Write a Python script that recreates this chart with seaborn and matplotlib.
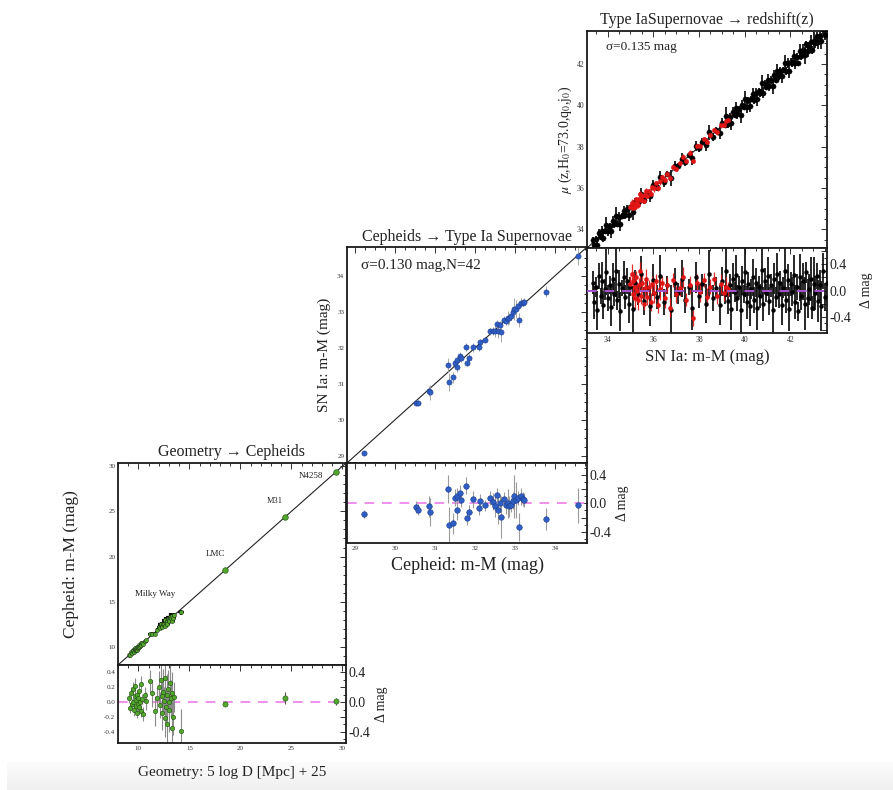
import numpy as np
import pandas as pd
import matplotlib
matplotlib.use("Agg")
import matplotlib.pyplot as plt
import seaborn as sns
from matplotlib.ticker import MultipleLocator, FixedLocator, FormatStrFormatter

# ---------------- data ----------------
# Panel 1: Geometry -> Cepheids (Milky Way Cepheids + anchors)
mw_x = [9.05, 9.2, 9.3, 9.38, 9.45, 9.5, 9.56, 9.62, 9.68, 9.72,
        9.78, 9.83, 9.88, 9.92, 9.97, 10.02, 10.08, 10.15, 10.22, 10.3,
        10.38, 10.48, 10.6, 10.75, 11.1, 11.3, 11.6, 11.85, 12.0, 12.1,
        12.2, 12.28, 12.35, 12.42, 12.5, 12.56, 12.62, 12.7, 12.76, 12.82,
        12.9, 12.96, 13.02, 13.1, 13.18, 13.25, 13.32, 13.4, 13.48, 14.2]
mw_res = [0.05, -0.08, 0.12, -0.02, 0.18, 0.0, -0.1, 0.08, 0.22, -0.05,
          0.03, -0.14, 0.1, -0.03, 0.06, 0.15, -0.07, 0.0, 0.25, -0.12,
          0.04, -0.16, 0.1, 0.02, 0.28, 0.12, -0.12, 0.05, 0.2, -0.04,
          0.3, 0.08, -0.15, 0.14, 0.02, -0.22, 0.33, -0.06, 0.1, -0.3,
          0.18, 0.0, -0.1, 0.26, 0.05, -0.35, 0.12, -0.2, 0.07, -0.39]
mw_err = [0.06, 0.07, 0.08, 0.06, 0.09, 0.07, 0.08, 0.06, 0.1, 0.07,
          0.06, 0.08, 0.07, 0.09, 0.06, 0.08, 0.07, 0.06, 0.1, 0.08,
          0.07, 0.09, 0.1, 0.12, 0.15, 0.18, 0.2, 0.16, 0.22, 0.18,
          0.25, 0.2, 0.22, 0.3, 0.18, 0.25, 0.35, 0.22, 0.28, 0.3,
          0.25, 0.2, 0.3, 0.35, 0.25, 0.3, 0.28, 0.24, 0.2, 0.3]
anchor_names = ["LMC", "M31", "N4258"]
anchor_x = [18.48, 24.37, 29.38]
anchor_res = [-0.02, 0.05, 0.01]
anchor_err = [0.03, 0.08, 0.05]

# Panel 2: Cepheids -> SN Ia (N=42)
sn_x = [29.22, 30.53, 30.57, 30.84, 30.88, 31.32, 31.35, 31.46, 31.5, 31.54,
        31.56, 31.62, 31.66, 31.77, 31.8, 31.85, 31.95, 32.09, 32.12, 32.26,
        32.38, 32.45, 32.5, 32.54, 32.57, 32.62, 32.64, 32.72, 32.77, 32.82,
        32.86, 32.9, 32.95, 32.98, 33.02, 33.08, 33.11, 33.15, 33.19, 33.23,
        33.78, 34.57]
sn_res = [-0.15, -0.05, -0.09, -0.04, -0.12, 0.2, -0.3, -0.28, 0.08, 0.11,
          -0.09, 0.14, 0.05, 0.25, -0.21, -0.12, 0.06, -0.07, 0.03, -0.03,
          0.08, 0.02, -0.04, 0.12, -0.09, 0.0, -0.19, 0.06, -0.03, 0.0,
          -0.04, -0.02, 0.04, 0.1, 0.05, 0.08, -0.33, 0.1, 0.06, 0.05,
          -0.22, -0.03]
sn_err = [0.05, 0.08, 0.08, 0.15, 0.2, 0.2, 0.25, 0.15, 0.12, 0.1,
          0.15, 0.12, 0.1, 0.12, 0.1, 0.1, 0.12, 0.1, 0.1, 0.08,
          0.1, 0.12, 0.15, 0.1, 0.2, 0.12, 0.3, 0.1, 0.12, 0.2,
          0.15, 0.1, 0.12, 0.3, 0.25, 0.1, 0.2, 0.12, 0.1, 0.1,
          0.15, 0.25]

# Panel 3: SN Ia -> redshift (Hubble flow, black) and red subset
hf_x = [33.35, 33.42, 33.5, 33.55, 33.62, 33.7, 33.75, 33.82, 33.9, 33.95,
        34.02, 34.1, 34.15, 34.22, 34.3, 34.36, 34.42, 34.5, 34.56, 34.63,
        34.7, 34.78, 34.85, 34.92, 35.0, 35.1, 35.2, 35.32, 35.45, 35.6,
        35.72, 35.85, 36.0, 36.15, 36.3, 36.45, 36.6, 36.78, 36.95, 37.1,
        37.25, 37.4, 37.55, 37.7, 37.85, 38.0, 38.15, 38.3, 38.45, 38.6,
        38.75, 38.9, 39.02, 39.12, 39.2, 39.28, 39.35, 39.42, 39.5, 39.56,
        39.62, 39.68, 39.75, 39.82, 39.88, 39.95, 40.02, 40.08, 40.15, 40.22,
        40.28, 40.35, 40.42, 40.48, 40.55, 40.62, 40.68, 40.75, 40.82, 40.88,
        40.95, 41.02, 41.08, 41.15, 41.22, 41.28, 41.35, 41.42, 41.48, 41.55,
        41.62, 41.68, 41.75, 41.82, 41.88, 41.95, 42.02, 42.08, 42.15, 42.22,
        42.28, 42.35, 42.42, 42.48, 42.55, 42.62, 42.68, 42.75, 42.82, 42.88,
        42.95, 43.02, 43.08, 43.15, 43.22, 43.28, 43.35, 43.42, 43.5, 43.58]
hf_res = [0.12, -0.18, 0.05, -0.3, 0.22, -0.08, 0.15, -0.22, 0.02, 0.28,
          -0.12, 0.08, -0.25, 0.18, -0.05, 0.3, -0.15, 0.1, -0.32, 0.04,
          0.2, -0.1, 0.14, -0.2, 0.06, -0.28, 0.12, -0.06, 0.25, -0.16,
          0.02, -0.24, 0.16, -0.1, 0.22, -0.18, 0.08, -0.3, 0.12, -0.04,
          0.18, -0.14, 0.05, -0.26, 0.2, -0.08, 0.1, -0.2, 0.26, -0.12,
          0.04, -0.22, 0.14, -0.06, 0.3, -0.16, 0.08, -0.28, 0.18, -0.02,
          0.24, -0.12, 0.06, -0.3, 0.15, -0.05, 0.28, -0.18, 0.1, -0.24,
          0.02, 0.2, -0.14, 0.12, -0.26, 0.06, -0.08, 0.32, -0.2, 0.14,
          -0.04, 0.22, -0.16, 0.08, -0.3, 0.18, -0.1, 0.26, -0.06, 0.12,
          -0.22, 0.04, 0.3, -0.14, 0.16, -0.28, 0.1, -0.02, 0.24, -0.18,
          0.06, -0.32, 0.2, -0.08, 0.14, -0.2, 0.28, -0.12, 0.02, 0.18,
          -0.26, 0.1, -0.04, 0.22, -0.16, 0.08, -0.24, 0.3, -0.1, 0.12]
hf_err = [0.18, 0.25, 0.15, 0.3, 0.2, 0.12, 0.28, 0.22, 0.16, 0.35,
          0.2, 0.14, 0.3, 0.24, 0.18, 0.4, 0.15, 0.22, 0.3, 0.12,
          0.25, 0.18, 0.2, 0.3, 0.14, 0.35, 0.2, 0.16, 0.28, 0.22,
          0.15, 0.3, 0.24, 0.18, 0.32, 0.2, 0.14, 0.38, 0.22, 0.16,
          0.28, 0.2, 0.12, 0.34, 0.24, 0.18, 0.15, 0.3, 0.36, 0.2,
          0.16, 0.3, 0.22, 0.14, 0.4, 0.2, 0.18, 0.32, 0.24, 0.15,
          0.3, 0.2, 0.16, 0.36, 0.22, 0.14, 0.38, 0.25, 0.18, 0.3,
          0.15, 0.28, 0.2, 0.22, 0.34, 0.16, 0.18, 0.4, 0.26, 0.2,
          0.14, 0.3, 0.22, 0.18, 0.36, 0.24, 0.15, 0.32, 0.2, 0.18,
          0.3, 0.16, 0.38, 0.2, 0.24, 0.34, 0.18, 0.22, 0.3, 0.26,
          0.2, 0.14, 0.36, 0.22, 0.28, 0.4, 0.16, 0.3, 0.24, 0.34,
          0.18, 0.42, 0.26, 0.2, 0.32, 0.24, 0.38, 0.28, 0.22, 0.3]
red_x = [35.0, 35.05, 35.1, 35.12, 35.18, 35.22, 35.25, 35.3, 35.35, 35.38,
         35.42, 35.48, 35.52, 35.58, 35.62, 35.68, 35.72, 35.8, 35.88, 35.95,
         36.02, 36.1, 36.2, 36.3, 36.4, 36.5, 36.62, 36.75, 36.88, 37.0,
         37.15, 37.3, 37.45, 37.6, 37.75, 37.9, 38.05, 38.2, 38.35, 38.5,
         38.65, 38.8, 38.95, 39.1, 39.2, 39.28]
red_res = [0.1, 0.25, -0.05, 0.15, 0.05, -0.12, 0.2, 0.0, -0.15, 0.08,
           0.3, -0.08, 0.12, -0.2, 0.04, 0.18, -0.1, 0.06, -0.18, 0.1,
           -0.04, 0.14, -0.22, 0.02, 0.12, -0.12, 0.08, -0.26, 0.16, -0.06,
           0.04, 0.2, -0.14, 0.08, -0.42, 0.12, -0.02, 0.16, -0.1, 0.06,
           0.18, -0.08, 0.1, -0.04, 0.06, 0.02]
red_err = [0.12, 0.15, 0.1, 0.14, 0.12, 0.16, 0.1, 0.13, 0.15, 0.11,
           0.14, 0.12, 0.16, 0.1, 0.13, 0.15, 0.12, 0.1, 0.14, 0.12,
           0.15, 0.11, 0.13, 0.16, 0.1, 0.14, 0.12, 0.15, 0.11, 0.13,
           0.12, 0.16, 0.1, 0.14, 0.12, 0.13, 0.15, 0.11, 0.14, 0.12,
           0.1, 0.13, 0.15, 0.12, 0.14, 0.11]

# ---------------- style ----------------
sns.set_theme(style="white")
plt.rcParams['font.family'] = ['Liberation Serif', 'DejaVu Serif']
plt.rcParams['mathtext.fontset'] = 'stix'
plt.rcParams['axes.unicode_minus'] = False

def frame(df_x, df_y):
    return pd.DataFrame({"x": df_x, "y": df_y})

fig = plt.figure(figsize=(8.93, 7.9), dpi=100)

# bottom grey shade
bg = fig.add_axes([0.008, 0.0, 0.992, 0.036], zorder=-5)
bg.imshow(np.linspace(0, 1, 50)[:, None], aspect='auto', cmap='Greys',
          vmin=-0.2, vmax=9.0, extent=[0, 1, 0, 1])
bg.axis('off')

def pos(l, t, r, b):
    return [l / 893, 1 - b / 790, (r - l) / 893, (b - t) / 790]

def style(ax, xmaj, xmin, ymaj, ymin, lsize=5.5):
    for s in ax.spines.values():
        s.set_linewidth(1.3)
        s.set_color('#1a1a1a')
    ax.xaxis.set_major_locator(MultipleLocator(xmaj))
    ax.xaxis.set_minor_locator(MultipleLocator(xmin))
    ax.yaxis.set_major_locator(MultipleLocator(ymaj))
    ax.yaxis.set_minor_locator(MultipleLocator(ymin))
    ax.tick_params(which='both', direction='in', top=True, right=True,
                   width=0.7, colors='#333333', labelsize=lsize, pad=2,
                   labelcolor='#333333')
    ax.tick_params(which='major', length=4)
    ax.tick_params(which='minor', length=2)
    ax.grid(False)

def right_scale(ax, pad):
    sec = ax.secondary_yaxis('right')
    sec.yaxis.set_major_locator(FixedLocator([-0.4, 0.0, 0.4]))
    sec.yaxis.set_major_formatter(FormatStrFormatter('%.1f'))
    sec.tick_params(length=0, labelsize=10, pad=2, colors='#222222')
    sec.spines['right'].set_visible(False)
    sec.set_ylabel('Δ mag', fontsize=10, labelpad=pad, color='#222222')
    return sec

def errbars(ax, x, y, err, color, lw=0.7, xerr=None, alpha=1.0):
    ax.errorbar(x, y, yerr=err, xerr=xerr, fmt='none', ecolor=color,
                elinewidth=lw, capsize=0, alpha=alpha, zorder=2)

GREEN = '#52a82c'
BLUE = '#2f5ec4'
RED = '#e01515'
DASH1 = '#ee8fee'
DASH3 = '#a653cf'

# ---------------- Panel 1 ----------------
ax1 = fig.add_axes(pos(118, 463, 346, 665))
r1 = fig.add_axes(pos(118, 665, 346, 743), sharex=ax1)
lim1 = (8.0, 30.35)
mw_y = [a + b for a, b in zip(mw_x, mw_res)]
an_y = [a + b for a, b in zip(anchor_x, anchor_res)]
ax1.axline((0, 0), slope=1, color='#222222', lw=0.8, zorder=1)
errbars(ax1, mw_x, mw_y, mw_err, '#111111', lw=1.6, xerr=mw_err)
sns.scatterplot(data=frame(mw_x, mw_y), x='x', y='y', ax=ax1, color=GREEN,
                s=9, edgecolor='#111111', linewidth=0.3, zorder=3, legend=False)
sns.scatterplot(data=frame(anchor_x, an_y), x='x', y='y', ax=ax1, color=GREEN,
                s=16, edgecolor='#2b5e16', linewidth=0.5, zorder=3, legend=False)
ax1.text(11.6, 15.9, 'Milky Way', fontsize=6.5, ha='center', va='center', color='#222222')
ax1.text(17.6, 20.3, anchor_names[0], fontsize=6.5, ha='center', va='center', color='#222222')
ax1.text(23.4, 26.1, anchor_names[1], fontsize=6, ha='center', va='center', color='#222222')
ax1.text(26.9, 28.9, anchor_names[2], fontsize=6.5, ha='center', va='center', color='#222222')
ax1.set_xlim(*lim1)
ax1.set_ylim(*lim1)
style(ax1, 5, 1, 5, 1, lsize=5)
ax1.tick_params(labelbottom=False)
ax1.set_xlabel('')
ax1.set_ylabel('Cepheid: m-M (mag)', fontsize=12.5, color='#222222')
ax1.yaxis.set_label_coords(-0.17, 0.5)
ax1.set_title('Geometry → Cepheids', fontsize=11.5, pad=5, color='#222222')

r1.axhline(0, color=DASH1, ls=(0, (5, 4)), lw=1.4, zorder=1)
errbars(r1, mw_x, mw_res, mw_err, '#8a8a8a', lw=0.8)
errbars(r1, anchor_x, anchor_res, anchor_err, '#555555', lw=0.8)
sns.scatterplot(data=frame(mw_x, mw_res), x='x', y='y', ax=r1, color=GREEN,
                s=10, edgecolor='#1f4f0f', linewidth=0.4, zorder=3, legend=False)
sns.scatterplot(data=frame(anchor_x, anchor_res), x='x', y='y', ax=r1, color=GREEN,
                s=14, edgecolor='#1f4f0f', linewidth=0.4, zorder=3, legend=False)
r1.set_ylim(-0.55, 0.5)
style(r1, 5, 1, 0.2, 0.1, lsize=5)
r1.yaxis.set_major_formatter(FormatStrFormatter('%.1f'))
r1.set_ylabel('')
r1.set_xlabel('Geometry: 5 log D [Mpc] + 25', fontsize=11, color='#222222')
r1.xaxis.set_label_coords(0.5, -0.3)
right_scale(r1, 3)

# ---------------- Panel 2 ----------------
ax2 = fig.add_axes(pos(347, 247, 587, 463))
r2 = fig.add_axes(pos(347, 463, 587, 543), sharex=ax2)
lim2 = (28.8, 34.8)
sn_y = [a + b for a, b in zip(sn_x, sn_res)]
ax2.axline((0, 0), slope=1, color='#222222', lw=0.8, zorder=1)
errbars(ax2, sn_x, sn_y, sn_err, '#9a9a9a', lw=0.6, xerr=[0.04] * len(sn_x))
sns.scatterplot(data=frame(sn_x, sn_y), x='x', y='y', ax=ax2, color=BLUE,
                s=14, edgecolor='#1c3c8c', linewidth=0.4, zorder=3, legend=False)
ax2.set_xlim(*lim2)
ax2.set_ylim(*lim2)
style(ax2, 1, 0.25, 1, 0.25, lsize=5)
ax2.tick_params(labelbottom=False)
ax2.set_xlabel('')
ax2.set_ylabel('SN Ia: m-M (mag)', fontsize=11, color='#222222')
ax2.yaxis.set_label_coords(-0.065, 0.5)
ax2.set_title('Cepheids → Type Ia Supernovae', fontsize=11.5, pad=4, color='#222222')
ax2.text(0.06, 0.915, 'σ=0.130 mag,N=42', transform=ax2.transAxes,
         fontsize=11, ha='left', va='center', color='#222222')

r2.axhline(0, color=DASH1, ls=(0, (5, 4)), lw=1.4, zorder=1)
errbars(r2, sn_x, sn_res, sn_err, '#9a9a9a', lw=0.8)
sns.scatterplot(data=frame(sn_x, sn_res), x='x', y='y', ax=r2, color=BLUE,
                s=16, edgecolor='#1c3c8c', linewidth=0.4, zorder=3, legend=False)
r2.set_ylim(-0.56, 0.57)
style(r2, 1, 0.25, 0.2, 0.1, lsize=5)
r2.tick_params(labelleft=False)
r2.set_ylabel('')
r2.set_xlabel('Cepheid: m-M (mag)', fontsize=13, color='#222222')
r2.xaxis.set_label_coords(0.5, -0.17)
right_scale(r2, 3)

# ---------------- Panel 3 ----------------
ax3 = fig.add_axes(pos(587, 31, 827, 248))
r3 = fig.add_axes(pos(587, 248, 827, 333), sharex=ax3)
lim3 = (33.1, 43.6)
hf_y = [a + b for a, b in zip(hf_x, hf_res)]
red_y = [a + b for a, b in zip(red_x, red_res)]
ax3.axline((0, 0), slope=1, color='#222222', lw=0.8, zorder=1)
errbars(ax3, hf_x, hf_y, hf_err, '#111111', lw=1.4, alpha=0.9)
sns.scatterplot(data=frame(hf_x, hf_y), x='x', y='y', ax=ax3, color='#000000',
                s=14, edgecolor='#000000', linewidth=0.3, zorder=3, legend=False)
errbars(ax3, red_x, red_y, red_err, RED, lw=1.0, alpha=0.9)
sns.scatterplot(data=frame(red_x, red_y), x='x', y='y', ax=ax3, color=RED,
                s=10, edgecolor=RED, linewidth=0.3, zorder=4, legend=False)
ax3.set_xlim(*lim3)
ax3.set_ylim(*lim3)
style(ax3, 2, 0.5, 2, 0.5, lsize=5.5)
ax3.tick_params(labelbottom=False)
ax3.set_xlabel('')
ax3.set_ylabel(r'$\mu$ (z,H$_0$=73.0,q$_0$,j$_0$)', fontsize=10, color='#222222')
ax3.yaxis.set_label_coords(-0.055, 0.5)
ax3.set_title('Type IaSupernovae → redshift(z)', fontsize=11.5, pad=5, color='#222222')
ax3.text(0.08, 0.925, 'σ=0.135 mag', transform=ax3.transAxes,
         fontsize=9.5, ha='left', va='center', color='#222222')

errbars(r3, hf_x, hf_res, hf_err, '#111111', lw=1.4, alpha=0.9)
sns.scatterplot(data=frame(hf_x, hf_res), x='x', y='y', ax=r3, color='#000000',
                s=8, edgecolor='#000000', linewidth=0.3, zorder=3, legend=False)
errbars(r3, red_x, red_res, red_err, RED, lw=0.9, alpha=0.9)
sns.scatterplot(data=frame(red_x, red_res), x='x', y='y', ax=r3, color=RED,
                s=9, edgecolor=RED, linewidth=0.3, zorder=4, legend=False)
r3.axhline(0, color=DASH3, ls=(0, (5, 4)), lw=1.4, zorder=5)
r3.set_ylim(-0.65, 0.65)
style(r3, 2, 0.5, 0.2, 0.1, lsize=5.5)
r3.tick_params(labelleft=False)
r3.set_ylabel('')
r3.set_xlabel('SN Ia: m-M (mag)', fontsize=12, color='#222222')
r3.xaxis.set_label_coords(0.5, -0.19)
right_scale(r3, 6)

fig.savefig('out.png', dpi=100, facecolor='white')
